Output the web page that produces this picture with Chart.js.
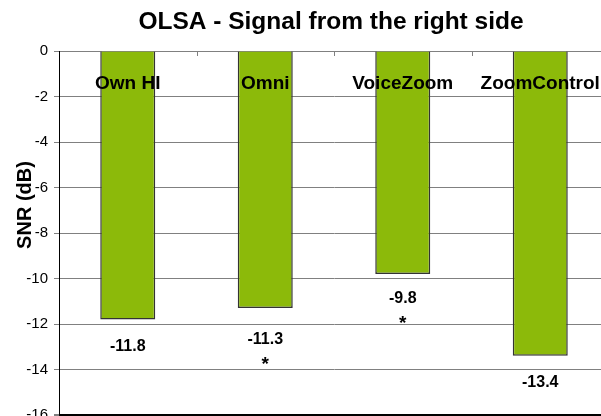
<!DOCTYPE html>
<html>
<head>
<meta charset="utf-8">
<script src="https://cdn.jsdelivr.net/npm/chart.js@4/dist/chart.umd.min.js"></script>
<style>
  html, body { margin: 0; padding: 0; overflow: hidden; background: #fff; }
  #wrap { width: 640px; height: 440px; }
</style>
</head>
<body>
<div id="wrap"><canvas id="c" width="640" height="440"></canvas></div>
<script>
// ---- data ----
const chartTitle = 'OLSA - Signal from the right side';
const yAxisTitle = 'SNR (dB)';
const categories = ['Own HI', 'Omni', 'VoiceZoom', 'ZoomControl'];
const snrValues = [-11.8, -11.3, -9.8, -13.4];
const valueLabels = ['-11.8', '-11.3', '-9.8', '-13.4'];
const significant = [false, true, true, false];
const yMin = -16, yMax = 0, yStep = 2;

// ---- styling (not data) ----
const FONT = "'Liberation Sans', Arial, sans-serif";
const labelOffsets = [32, 36, 29, 31];

const overlay = {
  id: 'overlay',
  afterDraw(chart) {
    const ctx = chart.ctx;
    const x = chart.scales.x, y = chart.scales.y;
    ctx.save();
    // title
    ctx.fillStyle = '#000';
    ctx.textAlign = 'center';
    ctx.textBaseline = 'alphabetic';
    ctx.font = 'bold 24.5px ' + FONT;
    ctx.fillText(chartTitle, 331, 29);
    // y title
    ctx.save();
    ctx.translate(31, 205);
    ctx.rotate(-Math.PI / 2);
    ctx.font = 'bold 20px ' + FONT;
    ctx.textAlign = 'center';
    ctx.fillText(yAxisTitle, 0, 0);
    ctx.restore();
    // category boundary tick marks at the top axis
    ctx.strokeStyle = '#808080';
    ctx.lineWidth = 1;
    for (let i = 0; i < categories.length - 1; i++) {
      const bx = Math.round((x.getPixelForValue(i) + x.getPixelForValue(i + 1)) / 2) + 0.5;
      const y0 = y.getPixelForValue(0);
      ctx.beginPath();
      ctx.moveTo(bx, y0);
      ctx.lineTo(bx, y0 + 5);
      ctx.stroke();
    }
    // category labels
    ctx.font = 'bold 19px ' + FONT;
    ctx.textAlign = 'center';
    categories.forEach((c, i) => {
      ctx.fillText(c, x.getPixelForValue(i), y.getPixelForValue(0) + 38);
    });
    // value labels + significance markers
    snrValues.forEach((v, i) => {
      const cx = x.getPixelForValue(i);
      const by = y.getPixelForValue(v) + labelOffsets[i];
      ctx.font = 'bold 16px ' + FONT;
      ctx.fillText(valueLabels[i], cx, by);
      if (significant[i]) {
        ctx.font = 'bold 19px ' + FONT;
        ctx.fillText('*', cx, by + 26);
      }
    });
    ctx.restore();
  }
};

new Chart(document.getElementById('c'), {
  type: 'bar',
  data: {
    labels: categories,
    datasets: [{
      data: snrValues,
      backgroundColor: '#8CBA0A',
      borderColor: '#333333',
      borderWidth: 1.5,
      barPercentage: 0.4,
      categoryPercentage: 1.0
    }]
  },
  options: {
    responsive: false,
    animation: false,
    layout: { padding: { left: 0, top: 51, right: 31, bottom: 25 } },
    plugins: { legend: { display: false }, title: { display: false }, tooltip: { enabled: false } },
    scales: {
      x: { display: false },
      y: {
        min: yMin, max: yMax,
        ticks: { stepSize: yStep, color: '#000', padding: 6, font: { family: FONT, size: 15 } },
        grid: {
          color: (c) => (c.tick && c.tick.value === yMin) ? '#000' : '#808080',
          lineWidth: (c) => (c.tick && c.tick.value === yMin) ? 2 : 1,
          tickLength: 5, tickColor: '#808080'
        },
        border: { color: '#000', width: 1 },
        afterFit(scale) { scale.width = 59; }
      }
    }
  },
  plugins: [overlay]
});
</script>
</body>
</html>
